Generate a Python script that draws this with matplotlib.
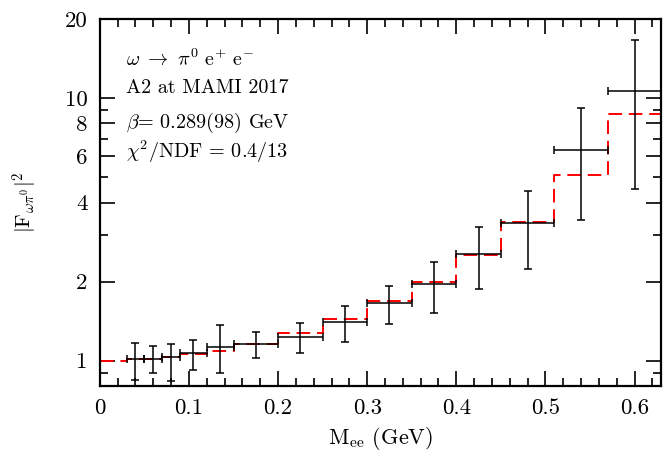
import matplotlib
matplotlib.use("Agg")
import matplotlib.pyplot as plt
from matplotlib.ticker import FixedLocator, FixedFormatter, MultipleLocator, NullFormatter
import numpy as np

plt.rcParams['font.family'] = 'cmr10'
plt.rcParams['mathtext.fontset'] = 'cm'
plt.rcParams['axes.formatter.use_mathtext'] = True

# data points: bin edges, centers, values and error-bar ends
x_lo = [0.03, 0.05, 0.07, 0.09, 0.12, 0.15, 0.20, 0.25, 0.30, 0.35, 0.40, 0.45, 0.51, 0.57]
x_hi = [0.05, 0.07, 0.09, 0.12, 0.15, 0.20, 0.25, 0.30, 0.35, 0.40, 0.45, 0.51, 0.57, 0.63]
x_c = [0.040, 0.060, 0.080, 0.105, 0.135, 0.175, 0.225, 0.275, 0.325, 0.375, 0.425, 0.480, 0.540, 0.600]
y_val = [1.01, 1.018, 1.035, 1.066, 1.13, 1.153, 1.23, 1.40, 1.66, 1.96, 2.54, 3.33, 6.36, 10.6]
y_up = [1.168, 1.137, 1.157, 1.20, 1.37, 1.28, 1.395, 1.61, 1.93, 2.38, 3.24, 4.42, 9.18, 16.7]
y_dn = [0.841, 0.898, 0.839, 0.918, 0.895, 1.02, 1.073, 1.18, 1.374, 1.52, 1.87, 2.24, 3.43, 4.50]

# model (red dashed histogram)
fit_edges = [0, 0.03, 0.05, 0.07, 0.09, 0.12, 0.15, 0.20, 0.25, 0.30, 0.35, 0.40, 0.45, 0.51, 0.57, 0.63]
fit_vals = [1.0, 1.01, 1.015, 1.035, 1.06, 1.09, 1.16, 1.27, 1.44, 1.69, 2.0, 2.52, 3.38, 5.1, 8.7]

fig = plt.figure(figsize=(6.7, 4.55), dpi=100)
ax = fig.add_axes([0.149, 0.1516, 0.838, 0.8066])

# red dashed step line
ax.step(fit_edges, fit_vals + [fit_vals[-1]], where='post', color='red',
        lw=1.4, dashes=(7, 3.5), zorder=2)

x_c = np.array(x_c)
y_val = np.array(y_val)
xerr = [x_c - np.array(x_lo), np.array(x_hi) - x_c]
yerr = [y_val - np.array(y_dn), np.array(y_up) - y_val]
ax.errorbar(x_c, y_val, xerr=xerr, yerr=yerr, fmt='none', ecolor='black',
            elinewidth=1.1, capsize=3, capthick=1.1, zorder=3)

ax.set_yscale('log')
ax.set_xlim(0, 0.63)
ax.set_ylim(0.8, 20)

ax.xaxis.set_major_locator(FixedLocator([0, 0.1, 0.2, 0.3, 0.4, 0.5, 0.6]))
ax.xaxis.set_major_formatter(FixedFormatter(['0', '0.1', '0.2', '0.3', '0.4', '0.5', '0.6']))
ax.xaxis.set_minor_locator(MultipleLocator(0.02))

ax.yaxis.set_major_locator(FixedLocator([1, 2, 4, 6, 8, 10, 20]))
ax.yaxis.set_major_formatter(FixedFormatter(['1', '2', '4', '6', '8', '10', '20']))
ax.yaxis.set_minor_locator(FixedLocator([0.9, 3, 5, 7, 9]))
ax.yaxis.set_minor_formatter(NullFormatter())

ax.tick_params(which='both', direction='in', top=True, right=True, width=1.2, labelsize=16.5)
ax.tick_params(which='major', length=11, pad=9)
ax.tick_params(which='minor', length=5.5)
for s in ax.spines.values():
    s.set_linewidth(1.6)

ax.set_xlabel(r'M$_{\mathrm{ee}}$ (GeV)', fontsize=16, labelpad=5)
ax.set_ylabel(r'$|\mathrm{F}_{\omega\pi^0}|^2$', fontsize=15, labelpad=18)

tx = 0.046
fs = 14.5
ax.text(tx, 0.872, r'$\omega\ \rightarrow\ \pi^0\ \mathrm{e}^{+}\ \mathrm{e}^{-}$', transform=ax.transAxes,
        fontsize=fs, va='baseline')
ax.text(tx, 0.798, 'A2 at MAMI 2017', transform=ax.transAxes, fontsize=fs, va='baseline')
ax.text(tx, 0.702, r'$\beta$= 0.289(98) GeV', transform=ax.transAxes, fontsize=fs, va='baseline')
ax.text(tx, 0.622, r'$\chi^2$/NDF = 0.4/13', transform=ax.transAxes, fontsize=fs, va='baseline')

fig.savefig('out.png', dpi=100)
